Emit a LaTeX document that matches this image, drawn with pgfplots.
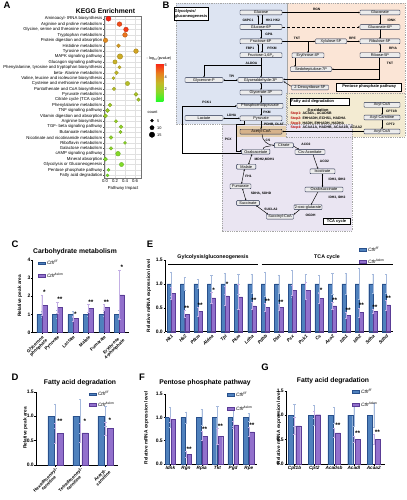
\documentclass[border=0pt]{standalone}
\usepackage{fontspec}
\setmainfont{Liberation Sans}
\usepackage{pgfplots}
\pgfplotsset{compat=1.18}
\usepackage{pgfplotstable}
\usetikzlibrary{arrows.meta}

\definecolor{cblue}{RGB}{79,129,189}
\definecolor{cblued}{RGB}{40,80,140}
\definecolor{cpur}{RGB}{146,112,204}
\definecolor{cpurd}{RGB}{90,60,150}
\definecolor{eblue}{RGB}{165,185,220}
\definecolor{epur}{RGB}{195,175,228}
\definecolor{rgblue}{RGB}{221,228,242}
\definecolor{rgpeach}{RGB}{251,229,214}
\definecolor{rgyel}{RGB}{243,235,210}
\definecolor{rgpur}{RGB}{234,229,242}
\definecolor{rgtan}{RGB}{230,208,175}
\definecolor{tanbox}{RGB}{214,178,138}
\definecolor{bnavy}{RGB}{30,40,70}

\pgfplotsset{/pgf/number format/assume math mode=true}

\pgfplotsset{
 barax/.style={scale only axis, anchor=south west, axis lines*=left, ymin=0,
  axis line style={line width=0.5pt, black},
  tick align=outside, major tick length=1.5bp,
  tick style={line width=0.4pt, black},
  yticklabel style={font=\fontsize{5}{5.5}\selectfont\bfseries, inner sep=0.6bp},
  xticklabel style={inner sep=0.6bp},
  clip=false,
  legend style={draw=none, fill=none, inner sep=0pt, font=\fontsize{4.8}{5.2}\selectfont, cells={anchor=west}},
  legend cell align=left},
 bl/.style={ybar, fill=cblue, draw=cblued, line width=0.35pt, forget plot,
  error bars/y dir=both, error bars/y explicit,
  error bars/error bar style={line width=0.4pt, draw=eblue},
  error bars/error mark options={rotate=90, line width=0.4pt, draw=eblue, mark size=1.1bp}},
 pl/.style={ybar, fill=cpur, draw=cpurd, line width=0.35pt, forget plot,
  error bars/y dir=both, error bars/y explicit,
  error bars/error bar style={line width=0.4pt, draw=epur},
  error bars/error mark options={rotate=90, line width=0.4pt, draw=epur, mark size=1.1bp}},
 lgb/.style={legend image code/.code={\draw[fill=cblue,draw=cblued,line width=0.35pt] (0bp,-1.2bp) rectangle (6.5bp,1.6bp);}},
 lgp/.style={legend image code/.code={\draw[fill=cpur,draw=cpurd,line width=0.35pt] (0bp,-1.2bp) rectangle (6.5bp,1.6bp);}},
}

\tikzset{
 bx/.style={draw=bnavy, line width=0.45pt, rounded corners=0.8bp, fill=white!85!gray, inner sep=0.3bp, minimum height=4.9bp, font=\fontsize{3.9}{4.2}\selectfont, text=black},
 enz/.style={font=\fontsize{3.3}{3.7}\selectfont\bfseries, inner sep=0.2bp},
 arr/.style={-{Stealth[length=1.6bp,width=1.5bp]}, line width=0.45pt},
 arrd/.style={{Stealth[length=1.6bp,width=1.5bp]}-{Stealth[length=1.6bp,width=1.5bp]}, line width=0.45pt},
 reg/.style={draw=gray!70, dash pattern=on 1bp off 0.8bp, line width=0.35pt},
 tbox/.style={draw=black, line width=0.5pt, fill=white, font=\fontsize{4}{4.5}\selectfont\bfseries, inner sep=0.8bp},
 star/.style={font=\fontsize{6.5}{6.5}\selectfont\bfseries, anchor=base, inner sep=0pt},
 ttl/.style={font=\fontsize{6.8}{7.5}\selectfont\bfseries},
 ylab/.style={rotate=90, font=\fontsize{4.8}{5.3}\selectfont\bfseries},
 plet/.style={font=\fontsize{9.5}{9.5}\selectfont\bfseries},
}
\newcommand\bx[4]{\node[bx, minimum width=#3bp] at (#1,#2) {#4};}
\newcommand\ez[3]{\node[enz] at (#1,#2) {#3};}
\newcommand\st[3]{\node[star] at (axis cs:#1,#2) {#3};}

% ---------------- data ----------------
\pgfplotstableread{
x y p c
0.07 1 6.2 13
0.29 2 5.5 12
0.42 3 5.8 12
0.40 4 4.8 12
0.01 5 4.3 11
0.27 6 3.8 8
0.62 7 3.6 12
0.30 8 3.4 15
0.20 9 3.2 10
0.29 10 3.1 6
0.23 11 3.0 8
0.17 12 2.9 5
0.45 13 2.7 10
0.18 14 2.7 7
0.62 15 2.4 9
0.67 16 2.2 7
0.10 17 2.1 8
0.05 18 2.0 9
0.01 19 1.9 9
0.22 20 1.8 6
0.32 21 1.7 8
0.31 22 1.7 6
0.12 23 1.6 8
0.40 24 1.5 5
0.12 25 1.5 7
0.26 26 1.4 12
0.01 27 1.3 9
0.33 28 1.3 10
0.07 29 1.2 5
0.05 30 1.2 5
}\tabA

\pgfplotstableread{
y c
1 5
2 10
3 15
}\tabCount

\pgfplotstableread{
x b be p pe
0 1.0 0.18 1.50 0.57
1 1.0 0.22 1.39 0.30
2 1.0 0.15 0.78 0.13
3 1.0 0.10 1.34 0.20
4 1.0 0.12 1.39 0.17
5 1.0 0.22 2.08 1.37
}\tabC

\pgfplotstableread{
x b be p pe
0 1.0 0.25 0.65 0.20
1 1.0 0.35 0.66 0.19
2 1.0 0.20 0.75 0.13
}\tabD

\pgfplotstableread{
x b be p pe
0 1.0 0.25 0.80 0.13
1 1.0 0.14 0.37 0.07
2 1.0 0.10 0.42 0.09
3 1.0 0.18 0.71 0.12
4 1.0 0.22 0.75 0.20
5 1.0 0.21 0.73 0.26
6 1.0 0.20 0.54 0.07
7 1.0 0.25 0.51 0.08
8 1.0 0.19 0.51 0.06
9 1.0 0.28 0.87 0.10
10 1.0 0.20 0.86 0.18
11 1.0 0.18 0.70 0.11
12 1.0 0.22 0.54 0.07
13 1.0 0.22 0.34 0.06
14 1.0 0.33 0.40 0.10
15 1.0 0.20 0.43 0.04
16 1.0 0.20 0.56 0.10
}\tabE

\pgfplotstableread{
x b be p pe
0 1.0 0.22 0.95 0.06
1 1.0 0.12 0.21 0.06
2 1.0 0.17 0.60 0.10
3 1.0 0.24 0.59 0.17
4 1.0 0.20 0.84 0.08
5 1.0 0.08 0.69 0.09
}\tabF

\pgfplotstableread{
x b be p pe
0 1.0 0.22 0.78 0.17
1 1.0 0.20 1.01 0.08
2 1.0 0.16 0.64 0.10
3 1.0 0.23 0.51 0.07
4 1.0 0.24 0.51 0.10
}\tabG

\begin{document}
\begin{tikzpicture}
\path[use as bounding box] (0,0) rectangle (407bp,-500bp);
\fill[white] (0,0) rectangle (407bp,-500bp);

% ================= Panel B diagram =================
\begin{scope}[x=1bp,y=-1bp]
\fill[rgblue] (176,3) rectangle (287,124);
\fill[rgpeach] (287,3) rectangle (405,93);
\fill[rgyel] (286,93) rectangle (405,137);
\fill[rgpur] (222,124) rectangle (352,231);
\fill[rgtan] (236,125.5) rectangle (286,137);
\draw[reg] (176,3) rectangle (287,124);
\draw[reg] (287,3) rectangle (405,93);
\draw[reg] (286,93) rectangle (405,137);
\draw[reg] (222,124) rectangle (352,231);

\node[tbox, minimum width=28bp, minimum height=13bp, align=left] at (191,14) {Glycolysis/\\gluconeogenesis};
\node[tbox, minimum width=65bp, minimum height=8bp] at (369.2,86.8) {Pentose phosphate pathway};
\node[tbox, minimum width=59bp, minimum height=6.7bp, text width=57bp, align=left] at (319.7,101.7) {Fatty acid degradation};
\node[tbox, minimum width=27bp, minimum height=6bp] at (336.5,221) {TCA cycle};

% arrows glycolysis
\draw[arr] (262,15) -- (262,24.5);
\draw[arr] (258,24.5) -- (258,15);
\draw[arrd] (261,29.5) -- (261,38.8);
\draw[arr] (262,43.8) -- (262,52.7);
\draw[arr] (258,52.7) -- (258,43.8);
\draw[arr] (261,57.7) -- (261,77.4);
\draw[arr] (261,65.5) -| (204,77.4);
\draw[arrd] (223.2,80) -- (237.8,80);
\draw[arrd] (261,82.6) -- (261,90);
\draw[arrd] (261,95) -- (261,103.2);
\draw[arr] (261,108.4) -- (261,115.8);
\draw[arrd] (239.8,118.3) -- (223.2,118.3);
\draw[arr] (261,120.8) -- (261,129.2);
\draw[arr] (241.5,152.8) -- (182,152.8) |- (236.8,105.8);
\draw[arr] (244,120.8) |- (236,124.5) -- (236,150.8) -- (241.5,150.8);
\draw[arr] (262,134.2) to[out=-90,in=180] (274.2,145.3);
\draw[line width=0.45pt] (263,149.2) to[out=80,in=200] (271,145.8);
% TCA arrows
\draw[arr] (293.5,146) -- (299,149.5);
\draw[arr] (313,154.5) -- (318,169);
\draw[arrd] (322.5,173.5) -- (322.5,187.2);
\draw[arr] (318,191.8) -- (311,204.8);
\draw[arr] (300,209.5) -- (293.7,214.5);
\draw[arrd] (268,214.3) -- (256,205.4);
\draw[arrd] (246,200.6) -- (242.5,188.7);
\draw[arrd] (241.5,183.9) -- (244.5,169.1);
\draw[arrd] (248.5,164.3) -- (252,154.1);
% pentose arrows
\draw[arr] (282.2,12.5) -- (359.8,12.5);
\draw[arr, densely dashed] (282.2,27) -- (359.8,27);
\draw[arr] (380,14.9) -- (380,24.6);
\draw[arr] (380,29.4) -- (380,38.9);
\draw[arr] (282.2,41.3) -- (315.3,41.3);
\draw[arr] (308,41.3) -- (308,52.9);
\draw[arrd] (346.7,41.3) -- (359.8,41.3);
\draw[arrd] (380,43.7) -- (380,52.8);
\draw[arr] (379,57.6) -- (379,79.3) -- (283.2,79.3);
\draw[arr] (379,69.2) -- (331.7,69.2);
\draw[arr] (295,57.7) -- (295,66.8);
\draw[arr] (291.5,86.5) -- (283.5,81.5);
% fatty arrows
\draw[arr] (382,107.3) -- (382,115);
\draw[arr] (382,120) -- (382,129.1);
\draw[arr] (363.8,131.5) -- (282.3,131.5);

% boxes
\bx{261}{12.5}{42}{Glucose}
\bx{261}{27}{42}{Glucose-6P}
\bx{261}{41.3}{42}{Fructose-6P}
\bx{261}{55.2}{42}{Fructose-1,6P\textsubscript{2}}
\bx{260.5}{80}{45}{Glyceraldehyde-3P}
\bx{204}{80}{38}{Glycerone-P}
\bx{261}{92.5}{42}{Glycerate-3P}
\bx{260}{105.8}{46}{Phosphoenolpyruvate}
\bx{261}{118.3}{42}{Pyruvate}
\bx{204}{118}{38}{Lactate}
\node[bx, fill=tanbox, minimum width=42bp] at (261,131.7) {Acetyl-CoA};
\bx{380}{12.5}{40}{Gluconate}
\bx{380}{27}{40}{Gluconate-6P}
\bx{380}{41.3}{40}{Ribulose-5P}
\bx{380}{55.2}{40}{Ribose-5P}
\bx{331}{41.3}{31}{Xylulose-5P}
\bx{308}{55.3}{32}{Erythrose-4P}
\bx{311}{69.2}{41}{Sedoheptulose-7P}
\bx{310}{87.5}{37}{2-Deoxyribose-5P}
\bx{382}{104.8}{36}{Acyl-CoA}
\bx{382}{117.5}{36}{Acyl-Carnitine}
\bx{382}{131.5}{36}{Acyl-CoA}
\bx{283.8}{145.3}{19}{Citrate}
\bx{310}{152}{30}{Cis-Aconitate}
\bx{322.5}{171.3}{25}{Isocitrate}
\bx{324}{189.5}{38}{Oxalosuccinate}
\bx{308}{207.2}{28}{2-oxo-glutarate}
\bx{280}{216.7}{27}{Succinyl-CoA}
\bx{248}{203}{22.6}{Succinate}
\bx{240.5}{186.3}{21}{Fumarate}
\bx{246.3}{166.7}{19.3}{Malate}
\bx{255.8}{151.7}{28.3}{Oxaloacetate}

% enzymes
\ez{248}{20}{G6PC1}
\ez{273}{20}{HK1 HK2}
\ez{269}{34}{GPI1}
\ez{250}{48.3}{FBP1}
\ez{272}{48.3}{PFKM}
\ez{251.5}{63.3}{ALDOA}
\ez{231.7}{76.5}{TPI}
\ez{206.7}{102.6}{PCK1}
\ez{267}{112}{PKM}
\ez{231.7}{115}{LDHA}
\ez{274}{124.8}{PDHB, DLAT}
\ez{228.3}{139.3}{PCX}
\ez{268}{140}{CS}
\ez{306}{144.5}{ACO2}
\ez{324.5}{161}{ACO2}
\ez{337}{180}{IDH3, IDH2}
\ez{337}{197.7}{IDH3, IDH2}
\ez{310.5}{215.7}{OGDH}
\ez{271}{209}{SUCLA2}
\ez{261}{194}{SDHA, SDHD}
\ez{248.5}{176.7}{FH1}
\ez{264.5}{159.3}{MDH2,MDH1}
\ez{316.7}{9.6}{RGN}
\ez{391.7}{20}{IDNK}
\ez{297}{38.8}{TKT}
\ez{352.5}{38.8}{RPE}
\ez{393}{48.3}{RPIA}
\ez{390}{63.3}{TKT}
\ez{391.5}{111.2}{CPT1B}
\ez{390.5}{124.5}{CPT2}

\node[font=\fontsize{3.9}{4.2}\selectfont\bfseries] at (318,110) {β-oxidation};
\begin{scope}[every node/.style={anchor=west, font=\fontsize{3.5}{4}\selectfont\bfseries, inner sep=0pt}]
\node at (290.5,114) {\textcolor{red!70!black}{Step1:} ACADL, ACADSB};
\node at (290.5,118.6) {\textcolor{red!70!black}{Step2:} EHHADH, ECHS1, HADHA};
\node at (290.5,123.2) {\textcolor{red!70!black}{Step3:} HADH, EHHADH, HADHA};
\node at (290.5,127.7) {\textcolor{red!70!black}{Step4:} ACAA1A, HADHB, ACAA1B, ACAA2};
\end{scope}
\end{scope}

% ================= Panel A =================
\begin{axis}[
  scale only axis, at={(104bp,-178bp)}, anchor=south west,
  width=37bp, height=162bp,
  xmin=-0.02, xmax=0.72, ymin=0.5, ymax=30.5, y dir=reverse,
  xtick={0,0.2,0.4,0.6}, xticklabels={0.0,0.2,0.4,0.6},
  ytick={1,...,30},
  yticklabels={Aminoacyl- tRNA biosynthesis, Arginine and proline metabolism, {Glycine, serine and threonine metabolism}, Tryptophan metabolism, Protein digestion and absorption, Histidine metabolism, Tyrosine metabolism, MAPK signaling pathway, Glucagon signaling pathway, {Phenylalanine, tyrosine and tryptophan biosynthesis}, beta- Alanine metabolism, {Valine, leucine and isoleucine biosynthesis}, Cysteine and methionine metabolism, Pantothenate and CoA biosynthesis, Pyruvate metabolism, Citrate cycle (TCA cycle), Phenylalanine metabolism, TNF signaling pathway, Vitamin digestion and absorption, Arginine biosynthesis, TGF- beta signaling pathway, Butanoate metabolism, Nicotinate and nicotinamide metabolism, Riboflavin metabolism, Galactose metabolism, cAMP signaling pathway, Mineral absorption, Glycolysis or Gluconeogenesis, Pentose phosphate pathway, Fatty acid degradation},
  grid=major, grid style={black!12, line width=0.3pt},
  axis line style={black!55, line width=0.4pt},
  tick style={black!70, line width=0.3pt}, major tick length=1bp, tick align=outside,
  xtick pos=bottom, ytick pos=left,
  ticklabel style={font=\fontsize{4.3}{4.6}\selectfont, inner sep=0.6bp},
  colormap={kegg}{rgb255(0cm)=(40,250,40) rgb255(1.5cm)=(140,215,40) rgb255(3cm)=(195,185,40) rgb255(4.6cm)=(232,128,30) rgb255(6.3cm)=(250,30,20)},
  point meta min=0, point meta max=6.3,
  colorbar,
  colorbar style={at={(parent axis.north east)}, anchor=north west, xshift=6.3bp, yshift=-47bp, scale only axis, width=7.5bp, height=38bp, ytick={2,4,6}, yticklabel style={font=\fontsize{3.9}{4.2}\selectfont, inner sep=1bp}, major tick length=0pt, axis line style={draw=none}},
  clip=false]
\addplot[scatter, only marks, mark=*, point meta=explicit,
  visualization depends on={0.9+0.12*\thisrow{c} \as \msz},
  scatter/@pre marker code/.append style={/tikz/mark size=\msz}]
  table[x=x, y=y, meta=p]{\tabA};
\end{axis}

% count legend
\begin{axis}[scale only axis, hide axis, at={(146bp,-138.2bp)}, anchor=south west,
  width=20bp, height=21bp, xmin=0, xmax=1, ymin=0.5, ymax=3.5, y dir=reverse, clip=false]
\addplot[scatter, only marks, mark=*, point meta=\thisrow{c},
  scatter/use mapped color={draw=black, fill=black},
  visualization depends on={0.9+0.12*\thisrow{c} \as \msz},
  scatter/@pre marker code/.append style={/tikz/mark size=\msz}]
  table[x expr=0.3, y=y]{\tabCount};
\node[anchor=west, font=\fontsize{3.9}{4.2}\selectfont, inner sep=0pt] at (axis cs:0.55,1) {5};
\node[anchor=west, font=\fontsize{3.9}{4.2}\selectfont, inner sep=0pt] at (axis cs:0.55,2) {10};
\node[anchor=west, font=\fontsize{3.9}{4.2}\selectfont, inner sep=0pt] at (axis cs:0.55,3) {15};
\end{axis}

% ================= Panel C =================
\begin{axis}[barax, at={(32.7bp,-332.5bp)}, width=96bp, height=72.5bp,
  xmin=-0.6, xmax=5.6, ymax=4, ytick={0,1,2,3,4},
  xtick={0,...,5},
  xticklabels={Glycerone\\phosphate, Pyruvate, Lactate, Malate, Fumarate, Erythrose\\4-phosphate},
  xticklabel style={rotate=45, anchor=north east, align=center, font=\fontsize{4.5}{4.6}\selectfont\bfseries},
  legend style={at={(0.055,1.025)}, anchor=north west, row sep=2.4bp}]
\addplot[bl, bar width=5bp, bar shift=-2.5bp] table[x=x,y=b,y error=be]{\tabC};
\addplot[pl, bar width=5bp, bar shift=2.5bp] table[x=x,y=p,y error=pe]{\tabC};
\addlegendimage{lgb}\addlegendentry{\textit{Cth}\textsuperscript{\textit{f/f}}}
\addlegendimage{lgp}\addlegendentry{\textit{Cth}\textsuperscript{\textit{Δskm}}}
\st{0.16}{2.07}{*}\st{1.16}{1.69}{**}\st{2.16}{0.91}{*}\st{3.16}{1.54}{**}\st{4.16}{1.56}{**}\st{5.16}{3.45}{*}
\end{axis}

% ================= Panel D =================
\begin{axis}[barax, at={(36bp,-465bp)}, width=82bp, height=73.3bp,
  xmin=-0.77, xmax=2.5, ymax=1.5, ytick={0,0.5,1,1.5}, yticklabels={0.0,0.5,1.0,1.5},
  xtick={0,1,2},
  xticklabels={Hexadecenoyl-\\carnitine, Tetradecenoyl-\\carnitine, Acetyl-\\carnitine},
  xticklabel style={rotate=45, anchor=north east, align=center, font=\fontsize{4.5}{4.6}\selectfont\bfseries},
  legend style={at={(0.646,1.035)}, anchor=north west, row sep=0.6bp}]
\addplot[bl, bar width=6bp, bar shift=-4.5bp] table[x=x,y=b,y error=be]{\tabD};
\addplot[pl, bar width=6bp, bar shift=4.5bp] table[x=x,y=p,y error=pe]{\tabD};
\addlegendimage{lgb}\addlegendentry{\textit{Cth}\textsuperscript{\textit{f/f}}}
\addlegendimage{lgp}\addlegendentry{\textit{Cth}\textsuperscript{\textit{Δskm}}}
\st{0.18}{0.85}{**}\st{1.18}{0.85}{*}\st{2.18}{0.88}{*}
\end{axis}

% ================= Panel E =================
\begin{axis}[barax, at={(165bp,-331.7bp)}, width=228bp, height=71.7bp,
  xmin=-0.46, xmax=16.5, ymax=1.5, ytick={0,0.5,1,1.5}, yticklabels={0.0,0.5,1.0,1.5},
  xtick={0,...,16},
  xticklabels={Hk1,Hk2,Pfkm,Aldoa,Tpi,Pkm,Ldha,Pdhb,Dlat,Pcx,Pck1,Cs,Aco2,Idh1,Idh2,Sdha,Sdhd},
  xticklabel style={rotate=45, anchor=north east, font=\fontsize{4.6}{4.8}\selectfont\bfseries\itshape},
  legend style={at={(0.851,1.215)}, anchor=north west, row sep=2.2bp}]
\addplot[bl, bar width=4.1bp, bar shift=-2.1bp] table[x=x,y=b,y error=be]{\tabE};
\addplot[pl, bar width=4.1bp, bar shift=2.1bp] table[x=x,y=p,y error=pe]{\tabE};
\addlegendimage{lgb}\addlegendentry{\textit{Cth}\textsuperscript{\textit{f/f}}}
\addlegendimage{lgp}\addlegendentry{\textit{Cth}\textsuperscript{\textit{Δskm}}}
\st{1.156}{0.44}{**}\st{2.156}{0.51}{**}\st{3.156}{0.83}{*}\st{4.156}{0.95}{*}
\st{6.156}{0.61}{**}\st{7.156}{0.59}{**}\st{8.156}{0.57}{**}\st{11.156}{0.81}{*}
\st{12.156}{0.61}{**}\st{13.156}{0.40}{**}\st{14.156}{0.50}{**}\st{15.156}{0.47}{**}\st{16.156}{0.66}{**}
\end{axis}

% ================= Panel F =================
\begin{axis}[barax, at={(165bp,-464bp)}, width=92bp, height=70bp,
  xmin=-0.34, xmax=5.52, ymax=1.5, ytick={0,0.5,1,1.5}, yticklabels={0.0,0.5,1.0,1.5},
  xtick={0,...,5},
  xticklabels={Idnk,Rgn,Rpia,Tkt,Pgd,Rpe},
  xticklabel style={font=\fontsize{4.7}{5}\selectfont\bfseries\itshape},
  legend style={at={(0.674,1.057)}, anchor=north west, row sep=4bp}]
\addplot[bl, bar width=4.5bp, bar shift=-3bp] table[x=x,y=b,y error=be]{\tabF};
\addplot[pl, bar width=4.5bp, bar shift=3bp] table[x=x,y=p,y error=pe]{\tabF};
\addlegendimage{lgb}\addlegendentry{\textit{Cth}\textsuperscript{\textit{f/f}}}
\addlegendimage{lgp}\addlegendentry{\textit{Cth}\textsuperscript{\textit{Δskm}}}
\st{1.19}{0.27}{**}\st{2.19}{0.70}{**}\st{3.19}{0.76}{**}\st{5.19}{0.78}{**}
\end{axis}

% ================= Panel G =================
\begin{axis}[barax, at={(286bp,-464bp)}, width=99bp, height=73.2bp,
  xmin=-0.43, xmax=4.57, ymax=1.5, ytick={0,0.5,1,1.5}, yticklabels={0.0,0.5,1.0,1.5},
  xtick={0,...,4},
  xticklabels={Cpt1b,Cpt2,Acadsb,Acadl,Acaa2},
  xticklabel style={font=\fontsize{4.7}{5}\selectfont\bfseries\itshape},
  legend style={at={(0.667,1.059)}, anchor=north west, row sep=3.4bp}]
\addplot[bl, bar width=5bp, bar shift=-3.7bp] table[x=x,y=b,y error=be]{\tabG};
\addplot[pl, bar width=5bp, bar shift=3.7bp] table[x=x,y=p,y error=pe]{\tabG};
\addlegendimage{lgb}\addlegendentry{\textit{Cth}\textsuperscript{\textit{f/f}}}
\addlegendimage{lgp}\addlegendentry{\textit{Cth}\textsuperscript{\textit{Δskm}}}
\st{2.187}{0.74}{**}\st{3.187}{0.58}{**}\st{4.187}{0.61}{**}
\end{axis}

% ================= annotations =================
\begin{scope}[x=1bp,y=-1bp]
\node[plet] at (7,5.5) {A};
\node[plet] at (166,5.5) {B};
\node[plet] at (15,244) {C};
\node[plet] at (15,377) {D};
\node[plet] at (150,244) {E};
\node[plet] at (142,377) {F};
\node[plet] at (265,367) {G};

\node[ttl] at (105.5,11) {KEGG Enrichment};
\node[ttl] at (75,251.7) {Carbohydrate metabolism};
\node[ttl] at (80,382.7) {Fatty acid degradation};
\node[ttl] at (205,383) {Pentose phosphate pathway};
\node[ttl] at (333,380.7) {Fatty acid degradation};

\node[font=\fontsize{4.3}{4.6}\selectfont] at (123,188) {Pathway Impact};
\node[anchor=west, font=\fontsize{3.8}{4.2}\selectfont, inner sep=0pt] at (146.5,58.5) {- log\textsubscript{10}(pvalue)};
\node[anchor=west, font=\fontsize{4}{4.3}\selectfont, inner sep=0pt] at (147.5,112.7) {count};

\node[ylab] at (20,296) {Relative peak area};
\node[ylab] at (25.5,428) {Relative peak area};
\node[ylab] at (149,296) {Relative mRNA expression level};
\node[ylab] at (146.5,428) {Relative mRNA expression level};
\node[ylab] at (279,428) {Relative mRNA expression level};

\draw[line width=0.6pt] (168,264) -- (258,264);
\draw[line width=0.6pt] (261.7,264) -- (392.7,264);
\node[font=\fontsize{5.3}{5.8}\selectfont\bfseries] at (213,257.5) {Gylcolysis/gluconeogenesis};
\node[font=\fontsize{5.3}{5.8}\selectfont\bfseries] at (327,257) {TCA cycle};
\end{scope}
\end{tikzpicture}
\end{document}
